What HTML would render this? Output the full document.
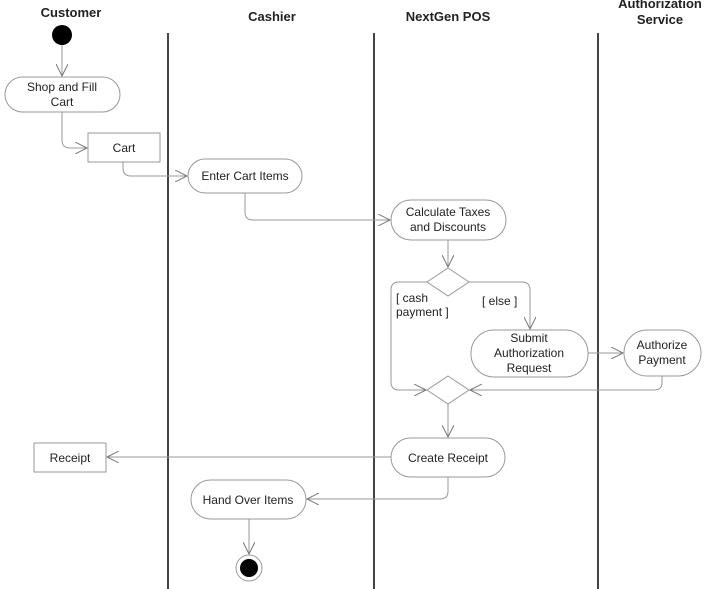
<!DOCTYPE html>
<html><head><style>
html,body{margin:0;padding:0;background:#fff}
svg{display:block}
text{font-family:"Liberation Sans",Arial,sans-serif;fill:#222}
</style></head><body>
<svg width="711" height="589" viewBox="0 0 711 589" xmlns="http://www.w3.org/2000/svg">
<defs>
<marker id="a" markerWidth="14" markerHeight="12" refX="12" refY="6" orient="auto" markerUnits="userSpaceOnUse">
<path d="M0,0 L12,6 L0,12" fill="none" stroke="#777" stroke-width="1"/>
</marker>
</defs>
<g font-weight="bold" font-size="13" text-anchor="middle">
<text x="71" y="17">Customer</text>
<text x="272" y="21">Cashier</text>
<text x="448" y="21">NextGen POS</text>
<text x="660" y="8">Authorization</text>
<text x="660" y="24">Service</text>
</g>
<g stroke="#444" stroke-width="2">
<line x1="168" y1="33" x2="168" y2="589"/>
<line x1="374" y1="33" x2="374" y2="589"/>
<line x1="598" y1="33" x2="598" y2="589"/>
</g>
<circle cx="62" cy="35" r="10" fill="#000"/>
<g fill="none" stroke="#999" stroke-width="1">
<line x1="62" y1="45" x2="62" y2="76" marker-end="url(#a)"/>
<path d="M62,112 V140 Q62,148 70,148 H87" marker-end="url(#a)"/>
<path d="M123,162 V168 Q123,176 131,176 H187" marker-end="url(#a)"/>
<path d="M245,193 V212 Q245,220 253,220 H390" marker-end="url(#a)"/>
<line x1="448" y1="240" x2="448" y2="267" marker-end="url(#a)"/>
<path d="M469,282 H522 Q530,282 530,290 V329" marker-end="url(#a)"/>
<path d="M427,282 H399 Q391,282 391,290 V382 Q391,390 399,390 H426" marker-end="url(#a)"/>
<path d="M588,353 H623" marker-end="url(#a)"/>
<path d="M662,376 V383 Q662,390 654,390 H470" marker-end="url(#a)"/>
<line x1="448" y1="404" x2="448" y2="437" marker-end="url(#a)"/>
<line x1="391" y1="457" x2="107" y2="457" marker-end="url(#a)"/>
<path d="M448,477 V491 Q448,499 440,499 H307" marker-end="url(#a)"/>
<line x1="249" y1="519" x2="249" y2="554" marker-end="url(#a)"/>
</g>
<g fill="#fff" stroke="#999" stroke-width="1">
<rect x="5" y="77" width="115" height="35" rx="17.5"/>
<rect x="88" y="133" width="72" height="29"/>
<rect x="188" y="159" width="114" height="34" rx="17"/>
<rect x="391" y="200" width="115" height="40" rx="20"/>
<path d="M448,268 L469,282 L448,296 L427,282 Z"/>
<rect x="471" y="330" width="117" height="47" rx="23"/>
<rect x="624" y="330" width="77" height="46" rx="23"/>
<path d="M448,376 L469,390 L448,404 L427,390 Z"/>
<rect x="391" y="438" width="114" height="39" rx="19.5"/>
<rect x="34" y="443" width="72" height="29"/>
<rect x="191" y="480" width="115" height="39" rx="19.5"/>
<circle cx="249" cy="568" r="13"/>
</g>
<circle cx="249" cy="568" r="9" fill="#000"/>
<g font-size="12" text-anchor="middle">
<text x="62" y="91">Shop and Fill</text>
<text x="62" y="106">Cart</text>
<text x="124" y="152">Cart</text>
<text x="245" y="180">Enter Cart Items</text>
<text x="448" y="216">Calculate Taxes</text>
<text x="448" y="231">and Discounts</text>
<text x="529" y="342">Submit</text>
<text x="529" y="357">Authorization</text>
<text x="529" y="372">Request</text>
<text x="662" y="349">Authorize</text>
<text x="662" y="364">Payment</text>
<text x="448" y="462">Create Receipt</text>
<text x="70" y="462">Receipt</text>
<text x="248" y="504">Hand Over Items</text>
</g>
<g font-size="12">
<text x="396" y="302">[ cash</text>
<text x="396" y="316">payment ]</text>
<text x="482" y="305">[ else ]</text>
</g>
</svg>
</body></html>
